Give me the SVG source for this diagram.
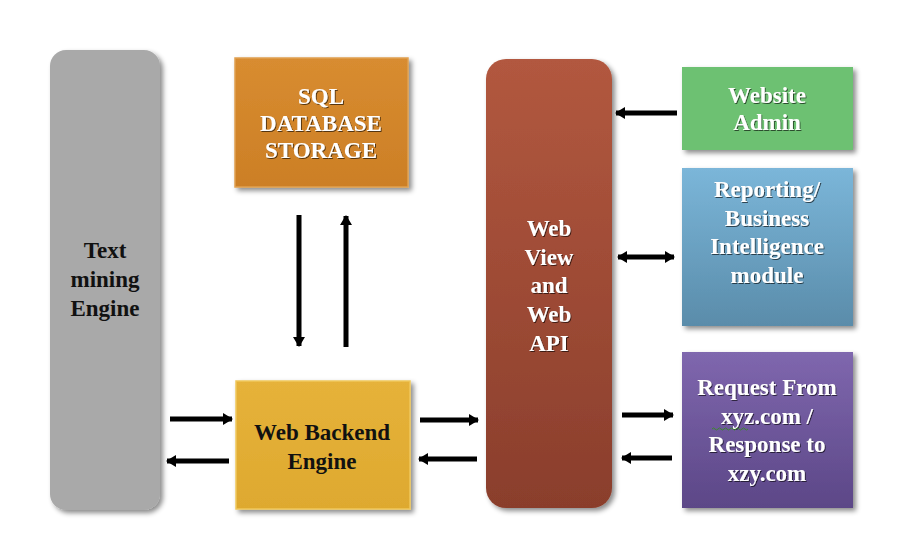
<svg xmlns="http://www.w3.org/2000/svg" width="898" height="552" viewBox="0 0 898 552">
<style>
.t{font-family:"Liberation Serif","Times New Roman",serif;font-weight:bold;font-size:23px;text-anchor:middle}
.w{fill:#ffffff;filter:url(#ts)}
.k{fill:#111111}
.c{stroke:#000;stroke-width:5;fill:none}
</style>
<defs>
<filter id="sh" x="-10%" y="-10%" width="130%" height="130%">
<feDropShadow dx="3" dy="3" stdDeviation="2.5" flood-color="#000" flood-opacity="0.45"/>
</filter>
<filter id="ts" x="-10%" y="-10%" width="130%" height="130%">
<feDropShadow dx="1" dy="1" stdDeviation="0.6" flood-color="#000" flood-opacity="0.6"/>
</filter>
<linearGradient id="gWeb" x1="0" y1="0" x2="0" y2="1"><stop offset="0" stop-color="#b2583f"/><stop offset="1" stop-color="#8a3e2c"/></linearGradient>
<linearGradient id="gRep" x1="0" y1="0" x2="0" y2="1"><stop offset="0" stop-color="#7bb6d9"/><stop offset="1" stop-color="#5a8caa"/></linearGradient>
<linearGradient id="gReq" x1="0" y1="0" x2="0" y2="1"><stop offset="0" stop-color="#7f67ae"/><stop offset="1" stop-color="#5c4787"/></linearGradient>
<linearGradient id="gSql" x1="0" y1="0" x2="0" y2="1"><stop offset="0" stop-color="#d88c30"/><stop offset="1" stop-color="#cc7f26"/></linearGradient>
<linearGradient id="gBe" x1="0" y1="0" x2="0" y2="1"><stop offset="0" stop-color="#e6b23a"/><stop offset="1" stop-color="#dea92f"/></linearGradient>
<marker id="ah" viewBox="0 0 10 12" refX="9" refY="6" markerWidth="10" markerHeight="12" markerUnits="userSpaceOnUse" orient="auto-start-reverse">
<path d="M0,0 L10,6 L0,12 Z" fill="#000"/>
</marker>
</defs>
<rect width="898" height="552" fill="#ffffff"/>

<g id="text-mining">
<rect x="50" y="50" width="110" height="460" rx="16" fill="#a9a9a9" filter="url(#sh)"/>
<text class="t k" x="105" y="258">Text</text>
<text class="t k" x="105" y="287">mining</text>
<text class="t k" x="105" y="316">Engine</text>
</g>

<g id="sql">
<rect x="235" y="58" width="173" height="129" fill="url(#gSql)" stroke="#e0a050" stroke-width="1.5" filter="url(#sh)"/>
<text class="t w" x="321" y="104">SQL</text>
<text class="t w" x="321" y="131">DATABASE</text>
<text class="t w" x="321" y="158">STORAGE</text>
</g>

<g id="backend">
<rect x="236" y="381" width="174" height="128" fill="url(#gBe)" stroke="#efc75c" stroke-width="1.5" filter="url(#sh)"/>
<text class="t k" x="322" y="440">Web Backend</text>
<text class="t k" x="322" y="469">Engine</text>
</g>

<g id="webview">
<rect x="486" y="59" width="126" height="449" rx="20" fill="url(#gWeb)" filter="url(#sh)"/>
<text class="t w" x="549" y="236">Web</text>
<text class="t w" x="549" y="265">View</text>
<text class="t w" x="549" y="293">and</text>
<text class="t w" x="549" y="322">Web</text>
<text class="t w" x="549" y="351">API</text>
</g>

<g id="admin">
<rect x="682" y="67" width="171" height="83" fill="#6dc172" filter="url(#sh)"/>
<text class="t w" x="767" y="103">Website</text>
<text class="t w" x="767" y="130">Admin</text>
</g>

<g id="reporting">
<rect x="682" y="168" width="171" height="158" fill="url(#gRep)" filter="url(#sh)"/>
<text class="t w" x="767" y="197">Reporting/</text>
<text class="t w" x="767" y="226">Business</text>
<text class="t w" x="767" y="254">Intelligence</text>
<text class="t w" x="767" y="283">module</text>
</g>

<g id="request">
<rect x="682" y="352" width="171" height="156" fill="url(#gReq)" filter="url(#sh)"/>
<text class="t w" x="767" y="395">Request From</text>
<text class="t w" x="767" y="424">xyz.com /</text>
<text class="t w" x="767" y="452">Response to</text>
<text class="t w" x="767" y="481">xzy.com</text>
<path d="M712,429 q1.5,-2 3,0 t3,0 t3,0 t3,0 t3,0 t3,0 t3,0 t3,0 t3,0 t3,0 t3,0 t3,0" stroke="#3a8a2a" stroke-width="1" fill="none"/>
</g>

<g id="connectors">
<line class="c" x1="299" y1="215" x2="299" y2="346" marker-end="url(#ah)"/>
<line class="c" x1="346" y1="347" x2="346" y2="216" marker-end="url(#ah)"/>
<line class="c" x1="170" y1="419" x2="232" y2="419" marker-end="url(#ah)"/>
<line class="c" x1="229" y1="461" x2="167" y2="461" marker-end="url(#ah)"/>
<line class="c" x1="420" y1="420" x2="478" y2="420" marker-end="url(#ah)"/>
<line class="c" x1="477" y1="459" x2="419" y2="459" marker-end="url(#ah)"/>
<line class="c" x1="677" y1="113" x2="616" y2="113" marker-end="url(#ah)"/>
<line class="c" x1="618" y1="257" x2="674" y2="257" marker-start="url(#ah)" marker-end="url(#ah)"/>
<line class="c" x1="622" y1="415" x2="673" y2="415" marker-end="url(#ah)"/>
<line class="c" x1="672" y1="458" x2="622" y2="458" marker-end="url(#ah)"/>
</g>
</svg>
